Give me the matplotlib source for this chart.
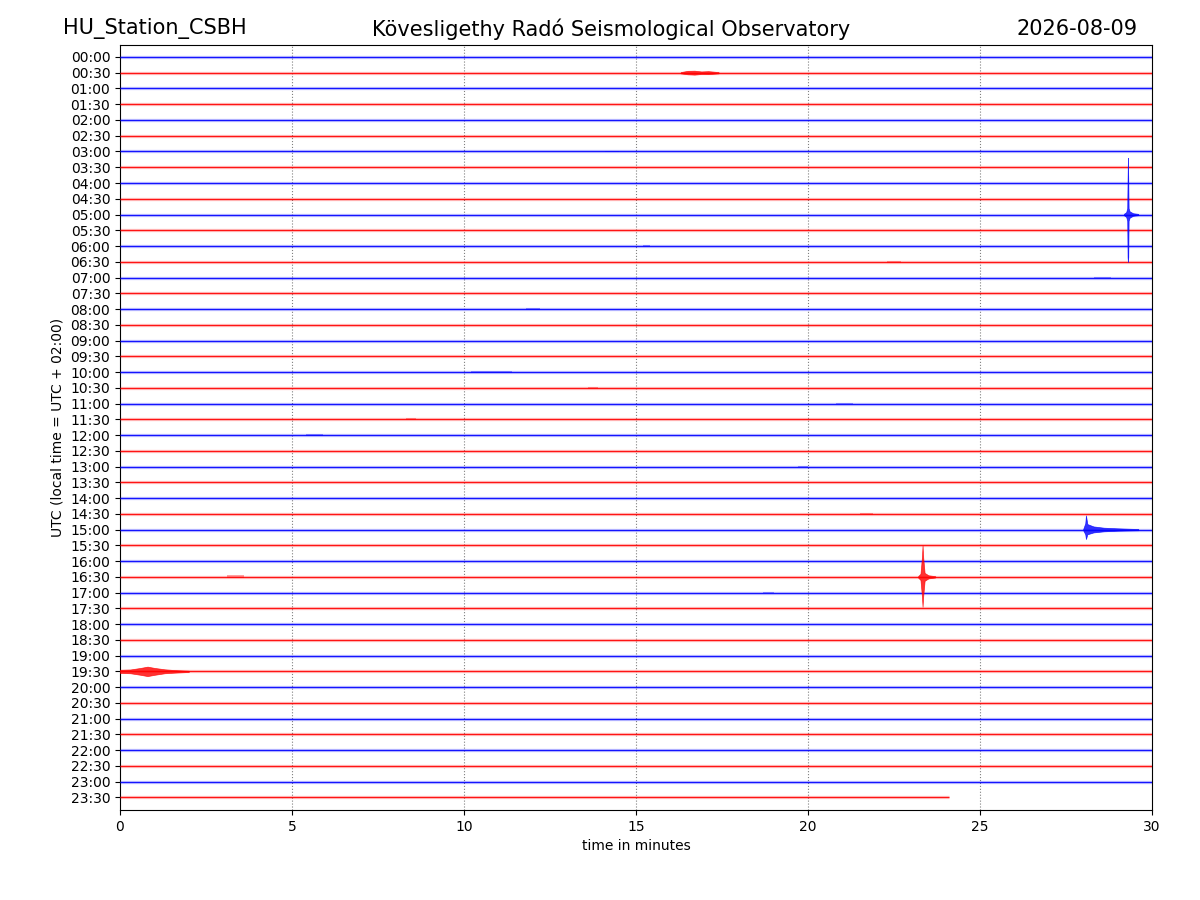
import matplotlib
matplotlib.use("Agg")
import matplotlib.pyplot as plt
import numpy as np

# ---- data ----
station = "HU_Station_CSBH"
observatory = "Kövesligethy Radó Seismological Observatory"
date_str = "2026-08-09"
row_labels = [f"{h:02d}:{m:02d}" for h in range(24) for m in (0, 30)]
trace_colors = ["blue", "red"]
last_trace_end = 24.1  # minutes recorded in the last row

# events: row label, envelope times (min), upper amplitude, lower amplitude (trace units)
ev_0500_t = [29.18, 29.25, 29.28, 29.29, 29.30, 29.31, 29.32, 29.35, 29.45, 29.6]
ev_0500_up = [0.04, 0.15, 0.4, 2.2, 3.6, 2.2, 0.4, 0.2, 0.08, 0.04]
ev_0500_dn = [0.04, 0.15, 0.4, 2.7, 3.0, 2.7, 0.4, 0.2, 0.08, 0.04]

ev_1630_t = [23.2, 23.27, 23.31, 23.33, 23.35, 23.39, 23.5, 23.7]
ev_1630_up = [0.04, 0.2, 1.2, 2.0, 1.2, 0.25, 0.1, 0.04]
ev_1630_dn = [0.04, 0.2, 1.2, 1.9, 1.2, 0.25, 0.1, 0.04]

ev_1500_t = [28.0, 28.06, 28.08, 28.12, 28.3, 28.6, 29.0, 29.4, 29.6]
ev_1500_up = [0.04, 0.4, 0.9, 0.35, 0.2, 0.12, 0.08, 0.05, 0.04]
ev_1500_dn = [0.04, 0.3, 0.6, 0.3, 0.18, 0.11, 0.07, 0.05, 0.04]

ev_1930_t = [0.0, 0.3, 0.6, 0.8, 1.0, 1.3, 1.6, 2.0]
ev_1930_up = [0.1, 0.12, 0.22, 0.3, 0.22, 0.13, 0.08, 0.04]
ev_1930_dn = [0.1, 0.12, 0.22, 0.3, 0.22, 0.12, 0.08, 0.04]

ev_0030_t = [16.3, 16.5, 16.7, 16.9, 17.1, 17.4]
ev_0030_up = [0.04, 0.12, 0.13, 0.08, 0.1, 0.04]
ev_0030_dn = [0.04, 0.1, 0.12, 0.08, 0.09, 0.04]

events = [
    ("05:00", ev_0500_t, ev_0500_up, ev_0500_dn),
    ("16:30", ev_1630_t, ev_1630_up, ev_1630_dn),
    ("15:00", ev_1500_t, ev_1500_up, ev_1500_dn),
    ("19:30", ev_1930_t, ev_1930_up, ev_1930_dn),
    ("00:30", ev_0030_t, ev_0030_up, ev_0030_dn),
]

# small bursts: row label, start, end, amplitude
minor_rows = ["10:00", "10:30", "11:00", "06:00", "16:30", "03:00", "11:30",
              "14:30", "06:30", "07:00", "13:00", "08:00", "12:00", "17:00"]
minor_start = [10.2, 13.6, 20.8, 15.2, 3.1, 14.1, 8.3, 21.5, 22.3, 28.3, 19.7, 11.8, 5.4, 18.7]
minor_end = [11.4, 13.9, 21.3, 15.4, 3.6, 14.5, 8.6, 21.9, 22.7, 28.8, 20.0, 12.2, 5.9, 19.0]
minor_amp = [0.09, 0.08, 0.06, 0.06, 0.1, 0.05, 0.06, 0.05, 0.05, 0.05, 0.05, 0.05, 0.05, 0.05]

# ---- plot ----
fig = plt.figure(figsize=(12, 9), dpi=100)
ax = fig.add_axes([0.1, 0.1, 0.86, 0.85])

n = len(row_labels)
offsets = -np.arange(n)
for i, lab in enumerate(row_labels):
    c = trace_colors[i % 2]
    xend = last_trace_end if i == n - 1 else 30
    y0 = offsets[i]
    ax.plot([0, xend], [y0, y0], color=c, lw=2.4, alpha=0.22, solid_capstyle="butt", zorder=3)
    ax.plot([0, xend], [y0, y0], color=c, lw=0.9, alpha=0.9, solid_capstyle="butt", zorder=4)

for lab, t, up, dn in events:
    i = row_labels.index(lab)
    c = trace_colors[i % 2]
    y0 = offsets[i]
    t = np.asarray(t)
    ax.fill_between(t, y0 + np.asarray(up), y0 - np.asarray(dn), color=c, lw=0.5,
                    edgecolor=c, alpha=0.8, zorder=5)

for lab, s, e, a in zip(minor_rows, minor_start, minor_end, minor_amp):
    i = row_labels.index(lab)
    c = trace_colors[i % 2]
    y0 = offsets[i]
    ax.fill_between([s, e], [y0 + a] * 2, [y0 - a] * 2, color=c, lw=0, alpha=0.35, zorder=5)

ax.set_xlim(0, 30)
ax.set_ylim(-n + 0.2, 0.76)
ax.set_yticks(offsets)
ax.set_yticklabels(row_labels)
ax.set_xticks([0, 5, 10, 15, 20, 25, 30])
for xv in [5, 10, 15, 20, 25]:
    ax.axvline(xv, color="gray", lw=0.8, ls=":", zorder=1)
ax.set_xlabel("time in minutes")
ax.set_ylabel("UTC (local time = UTC + 02:00)")

fig.text(0.0525, 0.968, station, fontsize=15, ha="left", va="center")
fig.text(0.509, 0.968, observatory, fontsize=15, ha="center", va="center")
fig.text(0.948, 0.968, date_str, fontsize=15, ha="right", va="center")

fig.savefig("out.png", dpi=100)
